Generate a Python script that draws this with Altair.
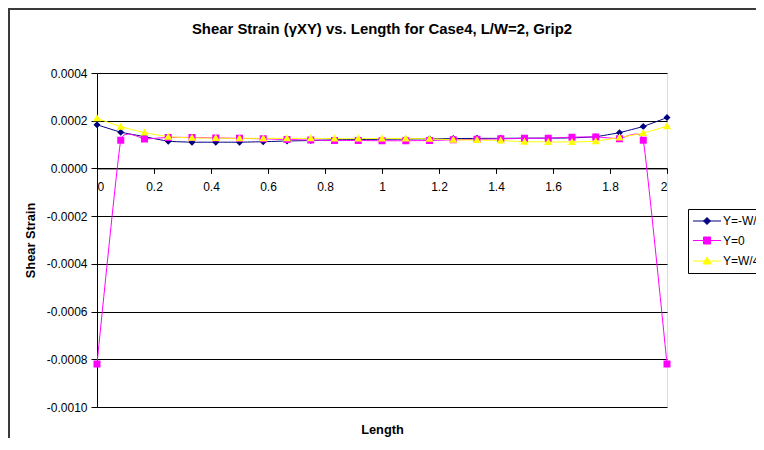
import altair as alt
import pandas as pd

LENGTH = [0.0, 0.0833, 0.1667, 0.25, 0.3333, 0.4167, 0.5, 0.5833, 0.6667, 0.75,
          0.8333, 0.9167, 1.0, 1.0833, 1.1667, 1.25, 1.3333, 1.4167, 1.5, 1.5833,
          1.6667, 1.75, 1.8333, 1.9167, 2.0]
SERIES = ["Y=-W/4", "Y=0", "Y=W/4"]
Y_NEG = [0.000183, 0.000152, 0.000133, 0.000114, 0.000110, 0.000110, 0.000110, 0.000112,
         0.000115, 0.000117, 0.000120, 0.000121, 0.000122, 0.000123, 0.000124, 0.000125,
         0.000126, 0.000126, 0.000127, 0.000127, 0.000128, 0.000133, 0.000150, 0.000176,
         0.000213]
Y_ZERO = [-0.000820, 0.000118, 0.000123, 0.000130, 0.000130, 0.000128, 0.000126, 0.000124,
          0.000121, 0.000119, 0.000117, 0.000117, 0.000116, 0.000116, 0.000117, 0.000120,
          0.000122, 0.000124, 0.000126, 0.000127, 0.000131, 0.000132, 0.000124, 0.000118,
          -0.000820]
Y_POS = [0.000210, 0.000175, 0.000150, 0.000133, 0.000128, 0.000127, 0.000126, 0.000126,
         0.000126, 0.000126, 0.000125, 0.000125, 0.000125, 0.000125, 0.000124, 0.000120,
         0.000119, 0.000117, 0.000112, 0.000111, 0.000111, 0.000114, 0.000130, 0.000148,
         0.000177]
COLORS = ["#000080", "#FF00FF", "#FFFF00"]
SHAPES = [
    "M-4,0H4M0,-1L1,0L0,1L-1,0Z",
    "M-4,0H4M-1,-1H1V1H-1Z",
    "M-4,0H4M0,-1.15L1.15,0.85L-1.15,0.85Z",
]
X_TICKS = [0, 0.2, 0.4, 0.6, 0.8, 1.0, 1.2, 1.4, 1.6, 1.8, 2.0]
Y_TICKS = [-0.001, -0.0008, -0.0006, -0.0004, -0.0002, 0.0, 0.0002, 0.0004]

rows = []
for name, vals in zip(SERIES, [Y_NEG, Y_ZERO, Y_POS]):
    for xv, yv in zip(LENGTH, vals):
        rows.append({"Length": xv, "Strain": yv, "Series": name})
df = pd.DataFrame(rows)

FONT = "Liberation Sans"
W, H = 570, 334

x_enc = alt.X(
    "Length:Q",
    scale=alt.Scale(domain=[0, 2], nice=False, zero=False),
    axis=alt.Axis(
        values=X_TICKS, format=".1~f", offset=-238.6, grid=False,
        tickSize=5, tickColor="black", domainColor="black",
        labelPadding=8, labelFontSize=12, labelFont=FONT, labelColor="black",
        title="Length", titleFont=FONT, titleFontSize=12.8, titleFontWeight="bold",
        titleColor="black", titleY=261, titleBaseline="middle",
    ),
)
y_enc = alt.Y(
    "Strain:Q",
    scale=alt.Scale(domain=[-0.001, 0.0004], nice=False, zero=False),
    axis=alt.Axis(
        values=Y_TICKS, labelExpr="replace(format(datum.value, '.4f'), '−', '-')",
        grid=True, gridColor="black", gridWidth=1, gridOpacity=1,
        tickSize=6, tickColor="black", domainColor="black",
        labelPadding=4, labelFontSize=12, labelFont=FONT, labelColor="black",
        title="Shear Strain", titleFont=FONT, titleFontSize=12.8, titleFontWeight="bold",
        titleColor="black", titleX=-67, titleY=167, titleBaseline="middle", titleAngle=-90,
    ),
)

color_scale = alt.Scale(domain=SERIES, range=COLORS)
shape_scale = alt.Scale(domain=SERIES, range=SHAPES)
legend = alt.Legend(
    orient="none", legendX=591, legendY=136, title=None,
    strokeColor="black", fillColor="white", padding=6, rowPadding=7.5,
    labelFont=FONT, labelFontSize=12, labelColor="black",
    symbolOffset=7, labelOffset=10, symbolStrokeWidth=1, symbolSize=49,
)

frame = alt.Chart(pd.DataFrame({"k": [0]})).mark_rect(
    fill="transparent", stroke="#3a3a3a", strokeWidth=2
).encode(
    x=alt.value(-88), x2=alt.value(W + 120), y=alt.value(-64), y2=alt.value(H + 120)
)

lines = alt.Chart(df).mark_line(interpolate="cardinal", tension=0.65, strokeWidth=1).encode(
    x=x_enc, y=y_enc,
    color=alt.Color("Series:N", scale=color_scale, legend=legend),
)
points = alt.Chart(df).mark_point(filled=True, size=49, opacity=1).encode(
    x=x_enc, y=y_enc,
    color=alt.Color("Series:N", scale=color_scale, legend=legend),
    shape=alt.Shape("Series:N", scale=shape_scale, legend=legend),
)

chart = alt.layer(frame, lines, points).properties(
    width=W, height=H,
    autosize="none",
    padding={"left": 89, "top": 65, "right": 89, "bottom": 31},
    title=alt.TitleParams(
        "Shear Strain (γXY) vs. Length for Case4, L/W=2, Grip2",
        font=FONT, fontSize=14.9, fontWeight="bold", color="black",
        anchor="middle", frame="group", offset=0, baseline="middle", dy=37,
    ),
).configure_view(stroke="#8c8c8c", strokeWidth=2).configure(background="white")

chart.save("out.html", embed_options={"renderer": "svg", "actions": False})
